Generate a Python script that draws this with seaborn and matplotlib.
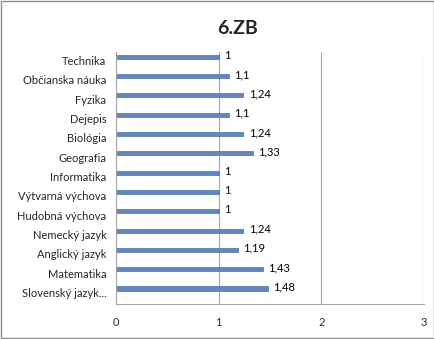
import numpy as np
import pandas as pd
import matplotlib.pyplot as plt
import seaborn as sns

subjects = ['Technika', 'Občianska náuka', 'Fyzika', 'Dejepis', 'Biológia',
            'Geografia', 'Informatika', 'Výtvarná výchova', 'Hudobná výchova',
            'Nemecký jazyk', 'Anglický jazyk', 'Matematika', 'Slovenský jazyk...']
values = [1, 1.1, 1.24, 1.1, 1.24, 1.33, 1, 1, 1, 1.24, 1.19, 1.43, 1.48]
labels = ['1', '1,1', '1,24', '1,1', '1,24', '1,33', '1', '1', '1', '1,24', '1,19', '1,43', '1,48']

df = pd.DataFrame({'subject': subjects, 'value': values})

sns.set_style('white')
plt.rcParams['font.family'] = ['Lato', 'DejaVu Sans']

fig = plt.figure(figsize=(4.35, 3.39), dpi=100)
fig.patches.append(plt.Rectangle((0.003, 0.003), 0.994, 0.994, transform=fig.transFigure,
                                 fill=False, edgecolor='#8c8c8c', linewidth=1))
ax = fig.add_axes([0.267, 0.103, 0.708, 0.744])

sns.barplot(data=df, x='value', y='subject', orient='h', color='#6286c0',
            width=0.22, ax=ax, saturation=1, edgecolor='#4a6fa5', linewidth=0.5)

for i, (v, lab) in enumerate(zip(values, labels)):
    ax.text(v + 0.05, i - 0.08, lab, fontsize=8, va='center', ha='left', color='black')

# category labels sit a little below the bars, like the original
ax.set_yticks(np.arange(len(subjects)) + 0.2)
ax.set_yticklabels(subjects, fontsize=8)
ax.set_ylim(12.8, -0.25)

ax.set_xlim(0, 3)
ax.set_xticks([0, 1, 2, 3])
ax.set_xticklabels(['0', '1', '2', '3'], fontsize=8)
ax.tick_params(axis='y', length=0, pad=7)
ax.tick_params(axis='x', length=0, pad=9)
ax.set_xlabel('')
ax.set_ylabel('')
ax.grid(axis='x', color='#a6a6a6', linewidth=0.8)
ax.set_axisbelow(True)
for s in ['top', 'right']:
    ax.spines[s].set_visible(False)
ax.spines['left'].set_color('#a6a6a6')
ax.spines['bottom'].set_color('#a6a6a6')

fig.text(0.545, 0.915, '6.ZB', fontsize=14, fontweight='bold', ha='center', va='center')

fig.savefig('out.png', dpi=100)
